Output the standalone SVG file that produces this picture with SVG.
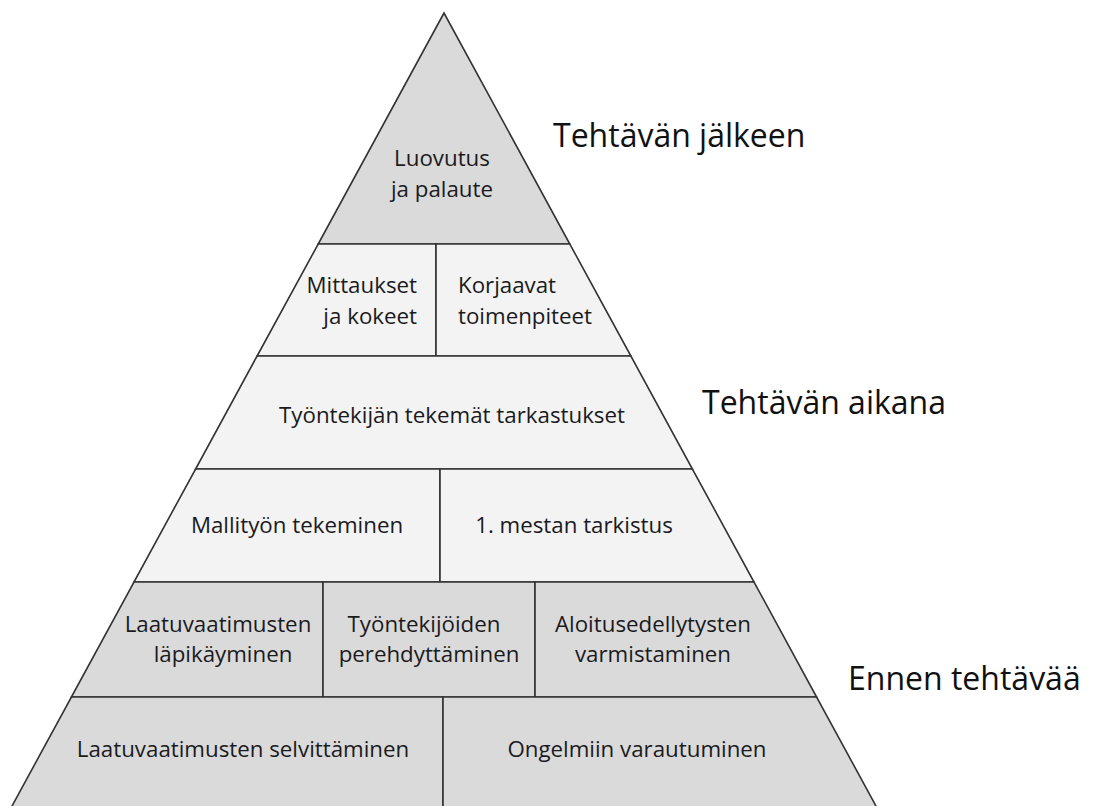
<svg xmlns="http://www.w3.org/2000/svg" width="1096" height="806" viewBox="0 0 1096 806">
<style>
.cell{stroke:#333;stroke-width:1.6;stroke-linejoin:miter}
.g{fill:#dadada}
.l{fill:#f3f3f3}
.t{font-family:"Open Sans","Noto Sans",sans-serif;font-size:22.3px;fill:#1a1a20}
.c{text-anchor:middle}
.side{font-family:"Open Sans","Noto Sans",sans-serif;font-size:32px;fill:#111}
</style>
<rect width="1096" height="806" fill="#fff"/>
<g id="luovutus">
<polygon class="cell g" points="444,13 318.2,244 569.8,244"/>
<text class="t c" x="442" y="166">Luovutus</text>
<text class="t c" x="442" y="197">ja palaute</text>
</g>
<g id="mittaukset">
<polygon class="cell l" points="318.2,244 436,244 436,356 257.1,356"/>
<text class="t" x="417" y="293" text-anchor="end">Mittaukset</text>
<text class="t" x="417" y="324" text-anchor="end">ja kokeet</text>
</g>
<g id="korjaavat">
<polygon class="cell l" points="436,244 569.8,244 630.9,356 436,356"/>
<text class="t" x="458" y="293">Korjaavat</text>
<text class="t" x="458" y="324">toimenpiteet</text>
</g>
<g id="tarkastukset">
<polygon class="cell l" points="257.1,356 630.9,356 692.4,469 195.6,469"/>
<text class="t c" x="452" y="423">Työntekijän tekemät tarkastukset</text>
</g>
<g id="mallityo">
<polygon class="cell l" points="195.6,469 440,469 440,582 134,582"/>
<text class="t c" x="297" y="533">Mallityön tekeminen</text>
</g>
<g id="mestan">
<polygon class="cell l" points="440,469 692.4,469 754,582 440,582"/>
<text class="t c" x="574" y="533">1. mestan tarkistus</text>
</g>
<g id="lapikayminen">
<polygon class="cell g" points="134,582 323,582 323,697 71.4,697"/>
<text class="t c" x="218" y="632">Laatuvaatimusten</text>
<text class="t c" x="223" y="662">läpikäyminen</text>
</g>
<g id="perehdyttaminen">
<polygon class="cell g" points="323,582 535,582 535,697 323,697"/>
<text class="t c" x="424" y="632">Työntekijöiden</text>
<text class="t c" x="429" y="662">perehdyttäminen</text>
</g>
<g id="varmistaminen">
<polygon class="cell g" points="535,582 754,582 816.6,697 535,697"/>
<text class="t c" x="653" y="632">Aloitusedellytysten</text>
<text class="t c" x="653" y="662">varmistaminen</text>
</g>
<g id="selvittaminen">
<polygon class="cell g" points="71.4,697 443,697 443,809 10.4,809"/>
<text class="t c" x="243" y="757">Laatuvaatimusten selvittäminen</text>
</g>
<g id="varautuminen">
<polygon class="cell g" points="443,697 816.6,697 877.6,809 443,809"/>
<text class="t c" x="637" y="757">Ongelmiin varautuminen</text>
</g>
<g id="labels">
<text class="side" x="553" y="147">Tehtävän jälkeen</text>
<text class="side" x="702" y="414">Tehtävän aikana</text>
<text class="side" x="848" y="690">Ennen tehtävää</text>
</g>
<g id="connectors"></g>
</svg>
